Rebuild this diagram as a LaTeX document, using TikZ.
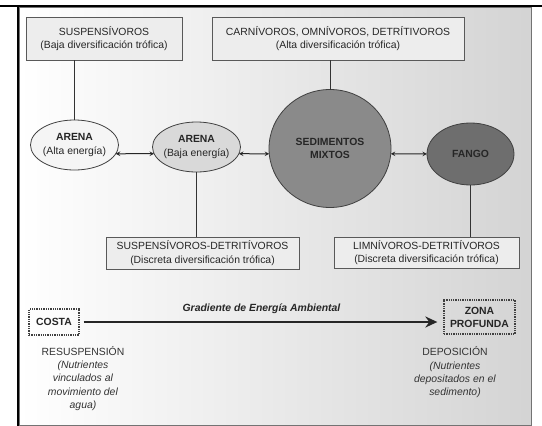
\documentclass[tikz,border=0pt]{standalone}
\usepackage{fontspec}
\setmainfont{Liberation Sans}
\usetikzlibrary{shapes.geometric,arrows.meta}

\begin{document}
\begin{tikzpicture}[x=1pt, y=-1pt,
        every node/.style={font=\fontsize{10.4}{13.3}\selectfont, text=black!85, align=center},
        taxon/.style={draw=black!65, fill=black!7, line width=0.8pt, inner sep=0pt, font=\fontsize{10.4}{13.5}\selectfont},
        habitat/.style={ellipse, draw=black!75, line width=0.8pt, inner xsep=-5pt, inner ysep=0pt, outer sep=0pt},
        zone/.style={draw=black!75, densely dotted, line width=1.3pt, inner sep=0pt, font=\fontsize{10.4}{13}\selectfont\bfseries},
        link/.style={draw=black!80, line width=1pt},
        ]
        \useasboundingbox (0,0) rectangle (542,426);
        \shade[left color=white, right color=black!17, draw=black!55] (19,7) rectangle (531,425);
        \draw[line width=2pt] (0,6) -- (542,6);
        \draw[line width=2pt] (18,6) -- (18,426);

        \node[taxon, minimum width=156pt, minimum height=43pt] (susp) at (104,38.5) {SUSPENSÍVOROS\\(Baja diversificación trófica)};
        \node[taxon, minimum width=252pt, minimum height=43pt] (carn) at (338,38.5) {CARNÍVOROS, OMNÍVOROS, DETRÍTIVOROS\\(Alta diversificación trófica)};
        \node[taxon, minimum width=193pt, minimum height=32pt] (susdet) at (202.5,253) {SUSPENSÍVOROS-DETRITÍVOROS\\(Discreta diversificación trófica)};
        \node[taxon, minimum width=185pt, minimum height=31pt] (limn) at (426.5,252.5) {LIMNÍVOROS-DETRITÍVOROS\\(Discreta diversificación trófica)};

        \node[habitat, fill=black!4, minimum width=88pt, minimum height=50pt] (alta) at (74.5,145) {\textbf{ARENA}\\(Alta energía)};
        \node[habitat, fill=black!15, minimum width=88pt, minimum height=50pt] (baja) at (196.5,147) {\textbf{ARENA}\\(Baja energía)};
        \node[habitat, fill=black!46, minimum width=122pt, minimum height=118pt] (sed) at (330,148.5) {\textbf{SEDIMENTOS}\\\textbf{MIXTOS}};
        \node[habitat, fill=black!57, minimum width=87pt, minimum height=62pt] (fango) at (470.5,154) {\textbf{FANGO}};

        \draw[<->, >=stealth, line width=1pt, black!85] (alta.-12) -- (baja.189);
        \draw[<->, >=stealth, line width=1pt, black!85] (baja.-9) -- (sed.185);
        \draw[<->, >=stealth, line width=1pt, black!85] (sed.-5) -- (fango.west);

        \draw[link] (alta.north) -- (alta.north |- susp.south);
        \draw[link] (sed.north) -- (sed.north |- carn.south);
        \draw[link] (baja.south) -- (baja.south |- susdet.north);
        \draw[link] (fango.south) -- (fango.south |- limn.north);

        \node[zone, minimum width=50pt, minimum height=26pt] (costa) at (54,322) {COSTA};
        \node[zone, minimum width=71pt, minimum height=34pt] (zona) at (479.5,317) {ZONA\\PROFUNDA};
        \draw[line width=2.6pt, -{Stealth[length=12pt, width=11pt]}, black!85, shorten <=4pt, shorten >=6pt] (costa.east) -- (costa.east -| zona.west)
                node[midway, above=7pt, inner sep=0pt, font=\fontsize{10.4}{13}\selectfont\bfseries\itshape] (grad) {Gradiente de Energía Ambiental};

        \node[text=black!80] (resusp) at (83,378.5) {RESUSPENSIÓN\\\textit{(Nutrientes}\\\textit{vinculados al}\\\textit{movimiento del}\\\textit{agua)}};
        \node[text=black!80] (depos) at (455,372.5) {DEPOSICIÓN\\\textit{(Nutrientes}\\\textit{depositados en el}\\\textit{sedimento)}};
\end{tikzpicture}
\end{document}
